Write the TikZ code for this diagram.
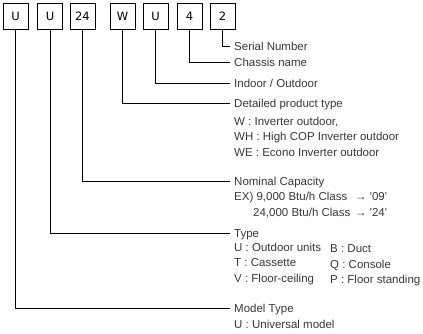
\documentclass[tikz,border=0pt]{standalone}
\usepackage{fontspec}
\setmainfont{Liberation Sans}
\newfontfamily\boxfont{DejaVu Sans}
\usetikzlibrary{positioning}
\newcommand{\sq}{\textquotesingle}

\tikzset{
  codebox/.style={draw, line width=0.8pt, minimum width=25pt, minimum height=26pt, inner sep=0pt, font=\boxfont\fontsize{11.5}{12}\selectfont},
  lbl/.style={anchor=west, inner xsep=4pt, inner ysep=0pt, text height=8pt, text depth=0pt, text=black!78, font=\fontsize{11.5}{14}\selectfont},
  sub/.style={anchor=west, inner sep=0pt, text height=8pt, text depth=0pt, text=black!78, font=\fontsize{11.5}{14}\selectfont},
  lead/.style={line width=0.8pt}
}

\begin{document}
\begin{tikzpicture}[x=1pt,y=-1pt]
\useasboundingbox (0,0) rectangle (423,333);
% code letters
\node[codebox] (model) at (15.5,16.5) {U};
\node[codebox] (type) at (50,16.5) {U};
\node[codebox] (cap) at (82.5,16.5) {24};
\node[codebox] (prod) at (122.5,16.5) {W};
\node[codebox] (unit) at (155.5,16.5) {U};
\node[codebox] (chassis) at (189.5,16.5) {4};
\node[codebox] (serial) at (222.5,16.5) {2};
% headings
\node[lbl] (serialtxt) at (230,46) {Serial Number};
\node[lbl] (chassistxt) at (230,62) {Chassis name};
\node[lbl] (unittxt) at (230,83) {Indoor / Outdoor};
\node[lbl] (prodtxt) at (230,103) {Detailed product type};
\node[lbl] (captxt) at (230,181) {Nominal Capacity};
\node[lbl] (typetxt) at (230,233) {Type};
\node[lbl] (modeltxt) at (230,308) {Model Type};
% leads
\draw[lead] (serial.south) |- (serialtxt.west);
\draw[lead] (chassis.south) |- (chassistxt.west);
\draw[lead] (unit.south) |- (unittxt.west);
\draw[lead] (prod.south) |- (prodtxt.west);
\draw[lead] (cap.south) |- (captxt.west);
\draw[lead] (type.south) |- (typetxt.west);
\draw[lead] (model.south) |- (modeltxt.west);
% details
\foreach \t [count=\i] in {{W : Inverter outdoor,}, {WH : High COP Inverter outdoor}, {WE : Econo Inverter outdoor}}
  \node[sub] (prod\i) at (234,105.5+15.5*\i) {\t};
\node[sub] (ex1) at (234,196.5) {EX) 9,000 Btu/h Class};
\node[sub] (ex2) at (253,212) {24,000 Btu/h Class};
\node[sub] (ex1val) at (355,196.5) {→ \sq09\sq};
\node[sub] (ex2val) at (355,212) {→ \sq24\sq};
\foreach \t [count=\i] in {{U : Outdoor units}, {T : Cassette}, {V : Floor-ceiling}}
  \node[sub] (typel\i) at (234,232.5+15.2*\i) {\t};
\foreach \t [count=\i] in {{B : Duct}, {Q : Console}, {P : Floor standing}}
  \node[sub] (typer\i) at (330,232.5+15.8*\i) {\t};
\node[sub] (model1) at (234,324) {U : Universal model};
\end{tikzpicture}
\end{document}
